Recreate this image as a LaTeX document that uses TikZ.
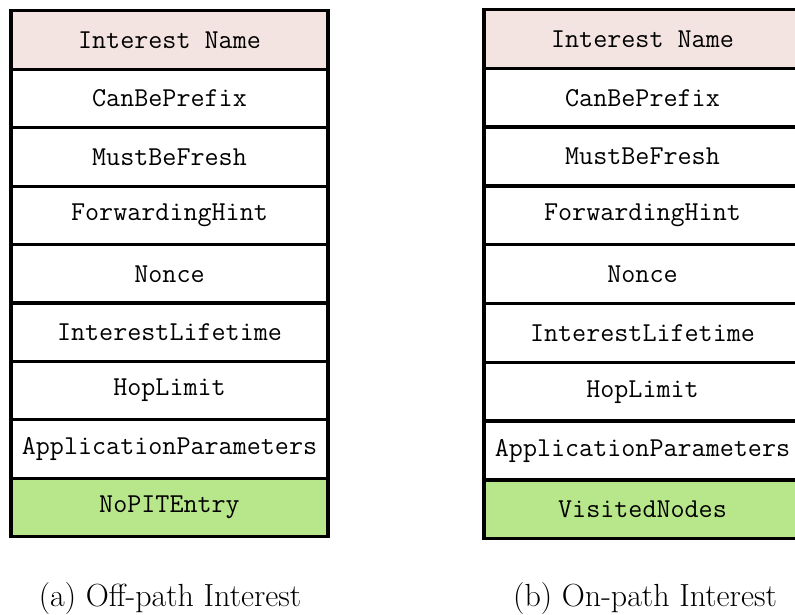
\documentclass[tikz,border=0pt]{standalone}
\usepackage{fontspec}
\definecolor{namepink}{RGB}{243,228,226}
\definecolor{extgreen}{RGB}{184,230,138}
\begin{document}
\begin{tikzpicture}[x=1pt,y=-1pt,
  field/.style={draw=black, line width=3.2pt, fill=white, rectangle,
    minimum width=317pt, minimum height=58.6pt, inner sep=0pt,
    font=\fontsize{27.3}{30}\selectfont\ttfamily},
  namefield/.style={field, fill=namepink},
  extfield/.style={field, fill=extgreen},
  caption/.style={font=\fontsize{32}{36}\selectfont\rmfamily, inner sep=0pt}]
\useasboundingbox (0,0) rectangle (795,615);

% (a) Off-path Interest packet
\begin{scope}[shift={(169.5,11)}]
  \node[namefield] (a1) at (0,29.2)  {Interest Name};
  \node[field]     (a2) at (0,87.6)  {CanBePrefix};
  \node[field]     (a3) at (0,146.0) {MustBeFresh};
  \node[field]     (a4) at (0,204.4) {ForwardingHint};
  \node[field]     (a5) at (0,262.8) {Nonce};
  \node[field]     (a6) at (0,321.2) {InterestLifetime};
  \node[field]     (a7) at (0,379.6) {HopLimit};
  \node[field]     (a8) at (0,438.0) {ApplicationParameters};
  \node[extfield]  (a9) at (0,496.4) {NoPITEntry};
\end{scope}
\node[caption] (capa) at (170,599) {(a) Off-path Interest};

% (b) On-path Interest packet
\begin{scope}[shift={(642.5,9.5)}]
  \node[namefield] (b1) at (0,29.4)  {Interest Name};
  \node[field]     (b2) at (0,88.2)  {CanBePrefix};
  \node[field]     (b3) at (0,147.0) {MustBeFresh};
  \node[field]     (b4) at (0,205.8) {ForwardingHint};
  \node[field]     (b5) at (0,264.6) {Nonce};
  \node[field]     (b6) at (0,323.4) {InterestLifetime};
  \node[field]     (b7) at (0,382.2) {HopLimit};
  \node[field]     (b8) at (0,441.0) {ApplicationParameters};
  \node[extfield]  (b9) at (0,499.8) {VisitedNodes};
\end{scope}
\node[caption] (capb) at (645,599) {(b) On-path Interest};
\end{tikzpicture}
\end{document}
